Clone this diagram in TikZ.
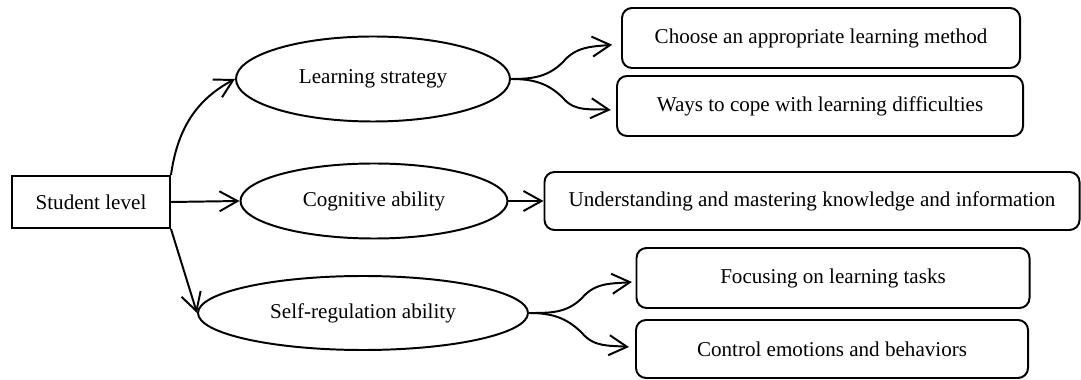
\documentclass[tikz,border=0pt]{standalone}
\usepackage{fontspec}
\setmainfont{Liberation Serif}
\usetikzlibrary{arrows.meta,shapes.geometric}

\begin{document}
\begin{tikzpicture}
            [every node/.style={font=\fontsize{15}{18}\selectfont},
            level/.style={draw, line width=1.4pt, minimum width=3.95cm, minimum height=1.3cm},
            aspect/.style={ellipse, draw, line width=1.4pt, inner sep=0pt},
            item/.style={draw, line width=1.4pt, rounded corners=0.25cm, minimum height=1.5cm},
            link/.style={line width=1.4pt, -{Straight Barb[length=4.5mm, width=5mm]}},
            brace/.style={line width=1.4pt}]

            \useasboundingbox (0,0) rectangle (27.025,9.5);

            \node[level] (stu) at (2.275,4.45) {Student level};

            % second level
            \node[aspect, minimum width=6.85cm, minimum height=2.125cm] (learn) at (9.325,7.525) {Learning strategy};
            \node[aspect, minimum width=6.675cm, minimum height=1.875cm] (cog) at (9.35,4.475) {Cognitive ability};
            \node[aspect, minimum width=8.25cm, minimum height=1.85cm] (self) at (9.075,1.675) {Self-regulation ability};

            % third level
            \node[item, minimum width=9.95cm] (method) at (20.525,8.55) {Choose an appropriate learning method};
            \node[item, minimum width=10.15cm] (cope) at (20.5,6.85) {Ways to cope with learning difficulties};
            \node[item, minimum width=13.375cm, minimum height=1.45cm] (know) at (20.3,4.475) {Understanding and mastering knowledge and information};
            \node[item, minimum width=9.825cm] (focus) at (20.825,2.55) {Focusing on learning tasks};
            \node[item, minimum width=9.8cm, minimum height=1.45cm] (emo) at (20.8,0.775) {Control emotions and behaviors};

            % kinks of the forks
            \coordinate (lup) at (14.075,7.95);
            \coordinate (ldown) at (14.075,7.05);
            \coordinate (sup) at (14.55,2.05);
            \coordinate (sdown) at (14.55,1.175);

            \draw[link] (stu.north east) to[out=82, in=208] (learn.west);
            \draw[link] (stu.east) -- (cog.west);
            \draw[link] (stu.south east) -- (self.west);

            \draw[link] (learn.east) to[out=0, in=225] (lup) to[out=50, in=185] ([xshift=-0.22cm, yshift=-0.17cm]method.west);
            \draw[link] (learn.east) to[out=0, in=135] (ldown) to[out=-50, in=175] ([xshift=-0.13cm, yshift=-0.1cm]cope.west);
            \draw[link] (cog.east) -- (know.west);
            \draw[link] (self.east) to[out=0, in=225] (sup) to[out=50, in=185] ([xshift=-0.09cm, yshift=-0.1cm]focus.west);
            \draw[link] (self.east) to[out=0, in=135] (sdown) to[out=-50, in=175] ([xshift=-0.15cm, yshift=0.05cm]emo.west);

        \end{tikzpicture}
\end{document}
